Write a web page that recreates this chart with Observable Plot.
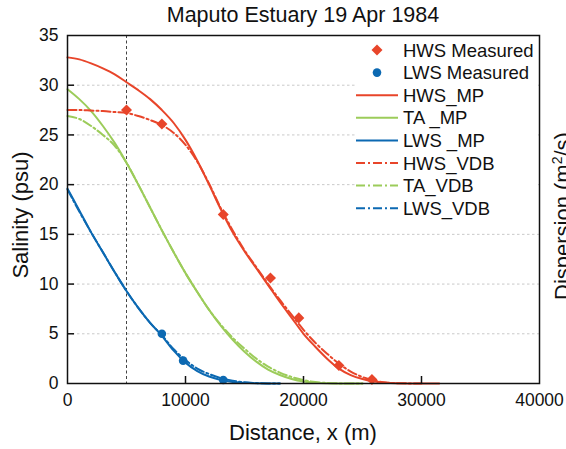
<!DOCTYPE html>
<html><head><meta charset="utf-8">
<script src="https://cdn.jsdelivr.net/npm/d3@7"></script>
<script src="https://cdn.jsdelivr.net/npm/@observablehq/plot@0.6"></script>
<style>
html,body{margin:0;padding:0;background:#fff;}
body{width:566px;height:449px;overflow:hidden;font-family:"Liberation Sans",Arial,sans-serif;}
#title{height:30px;line-height:30px;font-size:21.5px;text-align:center;padding-left:40px;width:526px;color:#111;}
#chart svg{overflow:visible;display:block;}
</style></head><body>
<div id="title">Maputo Estuary 19 Apr 1984</div>
<div id="chart"></div>
<script>
// ---- data ----
const distance = [0,1000,2000,3000,4000,5000,6000,7000,8000,9000,10000,11000,12000,13000,14000,15000,16000,17000,18000,19000,20000,21000,22000,23000,24000,25000,26000,27000,28000,29000,30000,31000,31500];
const hwsMP  = [32.8,32.6,32.2,31.7,31.1,30.3,29.5,28.6,27.5,26.2,24.5,22.4,20.0,17.5,15.2,13.3,11.6,9.9,8.2,6.6,5.0,3.7,2.5,1.5,0.85,0.45,0.2,0.08,0.03,0.01,0,0,0];
const taMP   = [29.6,28.6,27.4,25.9,24.2,22.2,20.0,17.7,15.4,13.2,11.1,9.2,7.4,5.8,4.4,3.2,2.2,1.4,0.85,0.45,0.2,0.08,0.03,0.01,0,0,null,null,null,null,null,null,null];
const lwsMP  = [19.6,17.4,15.2,13.2,11.2,9.3,7.6,6.1,4.8,3.3,2.1,1.25,0.7,0.35,0.15,0.07,0.03,0.01,0,null,null,null,null,null,null,null,null,null,null,null,null,null,null];
const hwsVDB = [27.5,27.5,27.45,27.4,27.3,27.2,26.9,26.5,26.0,25.2,24.0,22.3,20.1,17.6,15.4,13.4,11.7,10.0,8.4,6.9,5.4,4.1,3.0,2.0,1.2,0.65,0.3,0.1,0.03,0.01,0,null,null];
const taVDB  = [26.9,26.6,25.9,25.0,23.9,22.2,20.0,17.7,15.4,13.2,11.1,9.2,7.4,5.9,4.6,3.5,2.5,1.7,1.1,0.65,0.35,0.15,0.05,0.01,0,0,null,null,null,null,null,null,null];
const lwsVDB = [19.5,17.3,15.2,13.2,11.2,9.3,7.6,6.1,4.85,3.45,2.35,1.5,0.95,0.55,0.28,0.12,0.04,0.01,0,null,null,null,null,null,null,null,null,null,null,null,null,null,null];

const hwsMeasDist = [5000,8000,13200,17200,19600,23000,25800];
const hwsMeasSal  = [27.5,26.1,17.0,10.6,6.6,1.8,0.4];
const lwsMeasDist = [8000,9800,13200];
const lwsMeasSal  = [5.0,2.3,0.35];

const refLine = [5000];
const xTicks = [0,10000,20000,30000,40000];
const yTicks = [0,5,10,15,20,25,30,35];
const gridTicks = [5,10,15,20,25,30];
const innerXTicks = [10000,20000,30000];
const innerYTicks = [5,10,15,20,25,30];

const legendLabels = ["HWS Measured","LWS Measured","HWS_MP","TA _MP","LWS _MP","HWS_VDB","TA_VDB","LWS_VDB"];

// ---- style ----
const RED = "#e8452a", GREEN = "#9ccc5a", BLUE = "#0c69b2";
const DASHDOT = "9,3,2,3";
const W = 566, H = 419, mL = 67, mR = 27, mT = 5, mB = 66;
const plotW = W - mL - mR, plotH = H - mT - mB;

const table = vals => distance.map((d,i)=>({x:d, y:vals[i]})).filter(d => d.y != null);
const meas = (xs, ys) => xs.map((d,i)=>({x:d, y:ys[i]}));

const diamondSym = {draw(ctx, size){ const r = Math.sqrt(size/2); ctx.moveTo(0,-r); ctx.lineTo(r,0); ctx.lineTo(0,r); ctx.lineTo(-r,0); ctx.closePath(); }};

const series = [
  {label: legendLabels[2], vals: hwsMP, color: RED, dash: null},
  {label: legendLabels[3], vals: taMP, color: GREEN, dash: null},
  {label: legendLabels[4], vals: lwsMP, color: BLUE, dash: null},
  {label: legendLabels[5], vals: hwsVDB, color: RED, dash: DASHDOT},
  {label: legendLabels[6], vals: taVDB, color: GREEN, dash: DASHDOT},
  {label: legendLabels[7], vals: lwsVDB, color: BLUE, dash: DASHDOT}
];

// legend layout (pixels)
const LX0 = 355, LTOP = 20, LSTEP = 22.6, LLINE0 = 356, LLINE1 = 398, LMARK = 377, LTEXT = 403;

function legendBg(){
  const g = d3.create("svg:g");
  g.append("rect").attr("x", LX0).attr("y", mT+1).attr("width", W - mR - LX0 - 1).attr("height", 186).attr("fill", "white");
  return g.node();
}

function legendMark(){
  const g = d3.create("svg:g").attr("font-family", "Liberation Sans, Arial, sans-serif").attr("font-size", "18.5px").attr("fill", "#111").attr("text-anchor", "start");
  const items = [
    {label: legendLabels[0], kind: "diamond", color: RED},
    {label: legendLabels[1], kind: "circle", color: BLUE},
    ...series.map(s => ({label: s.label, kind: "line", color: s.color, dash: s.dash}))
  ];
  items.forEach((it, i) => {
    const y = LTOP + i*LSTEP;
    if (it.kind === "diamond") {
      const r = 5.5;
      g.append("path").attr("d", `M${LMARK},${y-r}L${LMARK+r},${y}L${LMARK},${y+r}L${LMARK-r},${y}Z`).attr("fill", it.color);
    } else if (it.kind === "circle") {
      g.append("circle").attr("cx", LMARK).attr("cy", y).attr("r", 4.3).attr("fill", it.color);
    } else {
      const l = g.append("line").attr("x1", LLINE0).attr("x2", LLINE1).attr("y1", y).attr("y2", y)
        .attr("stroke", it.color).attr("stroke-width", 2);
      if (it.dash) l.attr("stroke-dasharray", it.dash);
    }
    g.append("text").attr("x", LTEXT).attr("y", y).attr("dy", "0.36em").attr("text-anchor", "start").text(it.label);
  });
  // axis titles
  g.append("text").attr("x", mL + plotW/2).attr("y", 410).attr("text-anchor", "middle").attr("font-size", "22px").text("Distance, x (m)");
  g.append("text").attr("transform", `translate(28,${mT + plotH/2 + 6}) rotate(-90)`).attr("text-anchor", "middle").attr("font-size", "22px").text("Salinity (psu)");
  // partially visible label of neighbouring panel (cut at the right edge, as in the reference)
  const t = g.append("text").attr("transform", `translate(570,270) rotate(-90)`).attr("text-anchor", "start").attr("font-size", "22px");
  t.append("tspan").text("Dispersion (m");
  t.append("tspan").attr("font-size", "14px").attr("dy", "-8").text("2");
  t.append("tspan").attr("dy", "8").text("/s)");
  return g.node();
}

const chart = Plot.plot({
  width: W, height: H,
  marginLeft: mL, marginRight: mR, marginTop: mT, marginBottom: mB,
  style: {fontFamily: "Liberation Sans, Arial, sans-serif", fontSize: "17.5px", color: "#111", background: "white"},
  x: {domain: [0, 40000], label: null},
  y: {domain: [0, 35], label: null},
  marks: [
    Plot.gridY(gridTicks, {stroke: "#c9c9c9", strokeOpacity: 1, strokeDasharray: "2.5,2.5"}),
    legendBg,
    Plot.ruleX(refLine, {stroke: "#444", strokeWidth: 1, strokeDasharray: "3,2.5"}),
    ...series.map(s => Plot.line(table(s.vals), {x: "x", y: "y", stroke: s.color, strokeWidth: 2, curve: "monotone-x", strokeDasharray: s.dash || undefined})),
    Plot.dot(meas(hwsMeasDist, hwsMeasSal), {x: "x", y: "y", symbol: diamondSym, r: 4.4, fill: RED, stroke: "none"}),
    Plot.dot(meas(lwsMeasDist, lwsMeasSal), {x: "x", y: "y", symbol: "circle", r: 4.3, fill: BLUE, stroke: "none"}),
    Plot.tickY(innerYTicks, {y: d => d, stroke: "#111", strokeWidth: 1.5, insetRight: plotW - 7}),
    Plot.tickX(innerXTicks, {x: d => d, stroke: "#111", strokeWidth: 1.5, insetTop: plotH - 7}),
    Plot.frame({stroke: "#111", strokeWidth: 1.5}),
    Plot.axisX(xTicks, {tickSize: 0, tickPadding: 10, tickFormat: "d", label: null, fontSize: "17.5px"}),
    Plot.axisY(yTicks, {tickSize: 0, tickPadding: 9, tickFormat: "d", label: null, fontSize: "17.5px"}),
    legendMark
  ]
});
document.getElementById("chart").appendChild(chart);
</script>
</body></html>
